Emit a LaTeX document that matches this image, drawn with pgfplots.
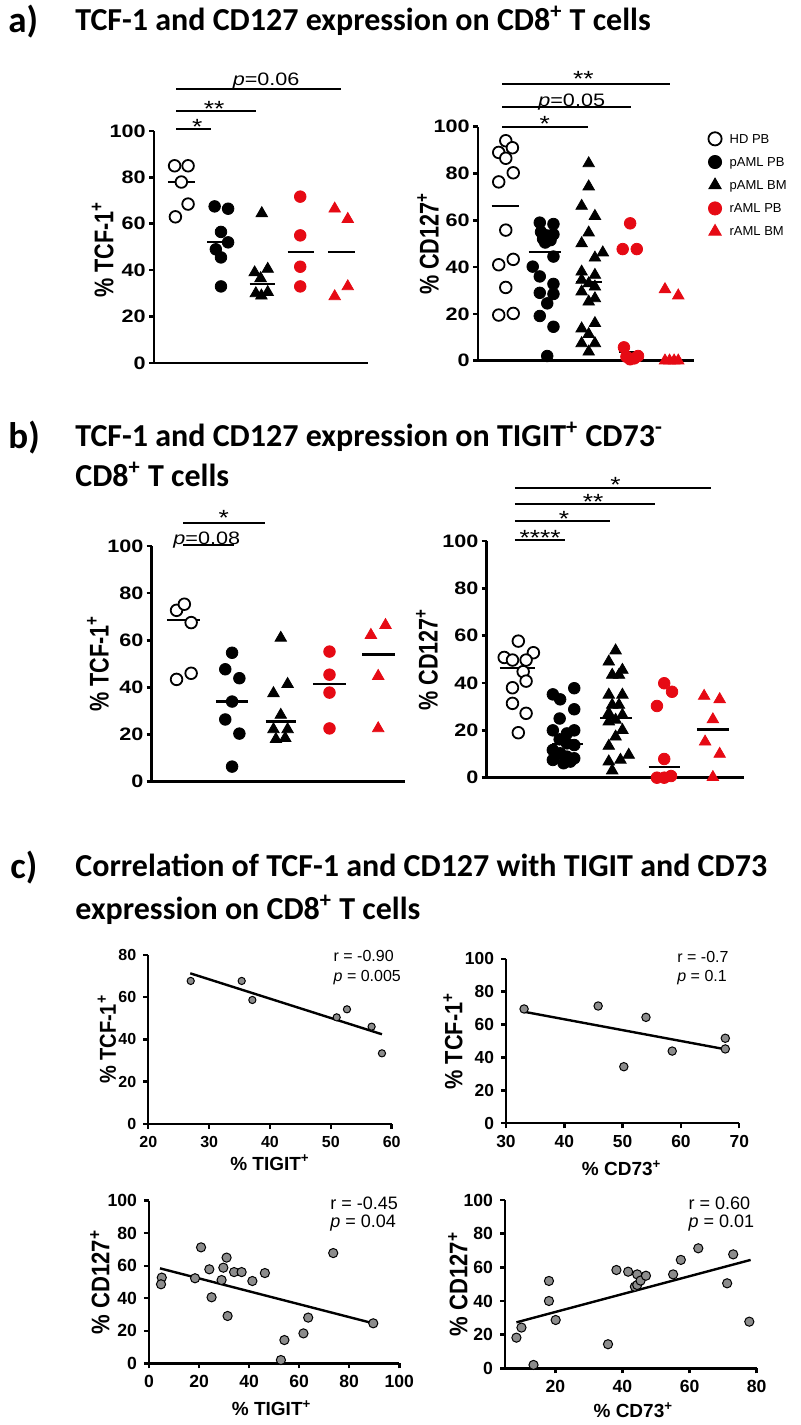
\documentclass[border=0pt]{standalone}
\usepackage{pgfplots}
\pgfplotsset{compat=1.18}
\usepackage{fontspec}
\setmainfont{Liberation Sans}
\newfontfamily\hfont[FakeStretch=1.2]{Liberation Sans}
\newfontfamily\vfont[FakeStretch=0.8]{Liberation Sans}
\newfontfamily\cvfont[FakeStretch=0.87]{Liberation Sans}
\newfontfamily\ttlfont{Carlito}
\definecolor{myred}{RGB}{230,10,20}
\definecolor{dotgray}{RGB}{140,140,140}
\pgfplotsset{
  dotplot/.style={
    scale only axis, axis lines=left, axis line style={-, line width=1.3pt},
    ymin=0, ymax=100, ytick={0,20,40,60,80,100}, xtick=\empty,
    tick align=outside, major tick length=2.5pt,
    tick style={line width=1.3pt, black},
    clip=false,
    /pgf/number format/assume math mode=true,
    yticklabel style={font=\hfont\bfseries\fontsize{9}{10}\selectfont, inner xsep=1.5pt},
    every axis y label/.style={rotate=90, anchor=center, font=\vfont\bfseries\fontsize{13.5}{14}\selectfont},
  },
  scat/.style={
    scale only axis, axis lines=left, axis line style={-, line width=1.2pt},
    tick align=outside, major tick length=2.5pt,
    tick style={line width=1.2pt, black},
    clip=false,
    /pgf/number format/assume math mode=true,
    tick label style={font=\bfseries\fontsize{8.5}{9}\selectfont},
    every axis y label/.style={rotate=90, anchor=center, font=\cvfont\bfseries\fontsize{12}{13}\selectfont},
    every axis x label/.style={anchor=center, font=\bfseries\fontsize{9.5}{11}\selectfont},
  },
  hd/.style={only marks, mark=*, mark size=2.9pt, mark options={fill=white, draw=black, line width=0.9pt}, forget plot},
  pb/.style={only marks, mark=*, mark size=2.9pt, mark options={fill=black, draw=black}, forget plot},
  bm/.style={only marks, mark=triangle*, mark size=3.3pt, mark options={fill=black, draw=black}, forget plot},
  rpb/.style={only marks, mark=*, mark size=2.9pt, mark options={fill=myred, draw=myred}, forget plot},
  rbm/.style={only marks, mark=triangle*, mark size=3.3pt, mark options={fill=myred, draw=myred}, forget plot},
  med/.style={black, line width=1.1pt, no marks, forget plot},
  sig/.style={black, line width=1.1pt, no marks, forget plot},
  pts/.style={only marks, mark=*, mark size=2pt, mark options={fill=dotgray, draw=black, line width=0.5pt}},
  reg/.style={black, line width=1.2pt, no marks},
}
\tikzset{sigtxt/.style={inner sep=0pt, anchor=base}}
\newcommand{\sigfont}{\hfont\fontsize{9}{10}\selectfont}
\newcommand{\starfont}{\hfont\fontsize{11}{12}\selectfont}
\begin{document}
\begin{tikzpicture}
\path[use as bounding box] (0pt,0pt) rectangle (400pt,712.5pt);

% ---------- titles ----------
\node[anchor=base west, inner sep=0pt, font=\ttlfont\bfseries\fontsize{18.5}{20}\selectfont] at (4pt,696pt) {a)};
\node[anchor=base west, inner sep=0pt, font=\ttlfont\bfseries\fontsize{16}{19}\selectfont] at (37.5pt,697pt) {TCF-1 and CD127 expression on CD8\textsuperscript{+} T cells};
\node[anchor=base west, inner sep=0pt, font=\ttlfont\bfseries\fontsize{18.5}{20}\selectfont] at (4pt,488pt) {b)};
\node[anchor=base west, inner sep=0pt, font=\ttlfont\bfseries\fontsize{16}{19}\selectfont] at (37.5pt,489pt) {TCF-1 and CD127 expression on TIGIT\textsuperscript{+} CD73\textsuperscript{-}};
\node[anchor=base west, inner sep=0pt, font=\ttlfont\bfseries\fontsize{16}{19}\selectfont] at (37.5pt,469pt) {CD8\textsuperscript{+} T cells};
\node[anchor=base west, inner sep=0pt, font=\ttlfont\bfseries\fontsize{18.5}{20}\selectfont] at (5pt,273pt) {c)};
\node[anchor=base west, inner sep=0pt, font=\ttlfont\bfseries\fontsize{16}{19}\selectfont] at (37.5pt,274pt) {Correlation of TCF-1 and CD127 with TIGIT and CD73};
\node[anchor=base west, inner sep=0pt, font=\ttlfont\bfseries\fontsize{16}{19}\selectfont] at (37.5pt,252.5pt) {expression on CD8\textsuperscript{+} T cells};

% ---------- a) left ----------
\begin{axis}[dotplot, at={(77pt,531pt)}, anchor=south west, width=107pt, height=116pt,
  xmin=-0.69, xmax=4.71, ylabel={\% TCF-1\textsuperscript{+}},
  ylabel style={at={(axis description cs:-0.24,0.49)}}]
\addplot[med] coordinates {(-0.34,78) (0.34,78)};
\addplot[med] coordinates {(0.66,52) (1.34,52)};
\addplot[med] coordinates {(1.72,34) (2.36,34)};
\addplot[med] coordinates {(2.68,48) (3.36,48)};
\addplot[med] coordinates {(3.7,48) (4.37,48)};
\addplot[hd] coordinates {(-0.17,85) (0.17,85) (0,78) (0.17,68.5) (-0.15,63)};
\addplot[pb] coordinates {(0.84,67.5) (1.18,66.5) (1,56.5) (1.18,52) (0.87,49) (1,45.5) (1,33)};
\addplot[bm] coordinates {(2.03,64.5) (1.85,39) (2.18,40.5) (2,36.5) (1.88,30) (2.02,29) (2.18,30.5)};
\addplot[rpb] coordinates {(3,71.7) (3,55) (3,41.5) (3,33)};
\addplot[rbm] coordinates {(3.87,66.5) (4.2,62) (4.2,33) (3.87,28.7)};
\addplot[sig] coordinates {(-0.13,100.7) (0.75,100.7)};
\addplot[sig] coordinates {(-0.13,108.6) (1.88,108.6)};
\addplot[sig] coordinates {(-0.13,118.1) (4.02,118.1)};
\node[sigtxt, font=\starfont, yshift=-2.6pt] at (axis cs:0.40,100.7) {*};
\node[sigtxt, font=\starfont, yshift=-2.6pt] at (axis cs:0.83,108.6) {**};
\node[sigtxt, font=\sigfont, yshift=1.5pt] at (axis cs:2.14,118.1) {\textit{p}=0.06};
\end{axis}

% ---------- a) right ----------
\begin{axis}[dotplot, at={(239pt,532.15pt)}, anchor=south west, width=108pt, height=117pt,
  xmin=-0.67, xmax=4.54, ylabel={\% CD127\textsuperscript{+}},
  ylabel style={at={(axis description cs:-0.231,0.5)}},
  legend style={at={(1.065,0.99)}, anchor=north west, draw=none, fill=none,
    font=\fontsize{6.5}{8}\selectfont, row sep=2.2pt, inner sep=0pt,
    nodes={inner sep=1pt, text height=5.8pt, text depth=1.6pt},
    /tikz/every odd column/.append style={column sep=3pt}},
  legend cell align=left]
\addplot[med] coordinates {(-0.34,66) (0.31,66)};
\addplot[med] coordinates {(0.55,46.6) (1.33,46.6)};
\addplot[med] coordinates {(1.69,33.5) (2.31,33.5)};
\addplot[med] coordinates {(2.72,3.8) (3.28,3.8)};
\addplot[med] coordinates {(3.76,0) (4.24,0)};
\addplot[hd] coordinates {(0,94) (-0.17,89) (0.16,91) (0,86.5) (0.18,80.3) (-0.17,76.4) (0,55.8) (-0.17,41) (0.18,43.3) (0,31.3) (-0.17,19.5) (0.18,20.2)};
\addplot[pb] coordinates {(0.82,59) (1.15,58.4) (0.85,55) (1.0,53.5) (1.15,54) (0.9,52) (1.08,51.5) (0.95,50.5) (1.15,44.5) (0.65,40.2) (0.82,36) (1.15,32.8) (0.82,29) (1.15,28.5) (1,24.5) (0.82,19.1) (1.15,14.5) (1,2)};
\addplot[bm] coordinates {(2,84.3) (2,74.4) (1.83,66.1) (2.15,61.8) (2,54.7) (1.83,50.1) (2.34,46.2) (2.15,44) (1.83,38) (2.15,36.6) (1.83,34.5) (2,33) (2.15,31.6) (1.83,29.5) (2.15,26.6) (2,25.2) (2.15,16) (1.83,13.7) (2,11.3) (1.83,7.4) (2.15,7.4) (2,3.8)};
\addplot[rpb] coordinates {(3,58.7) (2.82,47.7) (3.16,47.7) (2.85,5.7) (2.91,1.7) (3,0.6) (3.1,1) (3.19,2)};
\addplot[rbm] coordinates {(3.84,30.5) (4.16,27.8) (3.84,0) (3.95,0) (4.06,0) (4.16,0)};
\addplot[sig] coordinates {(-0.08,100) (1.99,100)};
\addplot[sig] coordinates {(-0.08,108.3) (3.02,108.3)};
\addplot[sig] coordinates {(-0.08,118.1) (3.95,118.1)};
\node[sigtxt, font=\starfont, yshift=-2.6pt] at (axis cs:0.94,100) {*};
\node[sigtxt, font=\sigfont, yshift=0.6pt] at (axis cs:1.59,108.3) {\textit{p}=0.05};
\node[sigtxt, font=\starfont, yshift=-1.0pt] at (axis cs:1.87,118.1) {**};
\addlegendimage{hd, mark size=3.3pt}
\addlegendentry{HD PB}
\addlegendimage{pb, mark size=3.3pt}
\addlegendentry{pAML PB}
\addlegendimage{bm, mark size=3.6pt}
\addlegendentry{pAML BM}
\addlegendimage{rpb, mark size=3.3pt}
\addlegendentry{rAML PB}
\addlegendimage{rbm, mark size=3.6pt}
\addlegendentry{rAML BM}
\end{axis}

% ---------- b) left ----------
\begin{axis}[dotplot, at={(75.85pt,321.65pt)}, anchor=south west, width=126.65pt, height=117.85pt,
  xmin=-0.65, xmax=4.55, ylabel={\% TCF-1\textsuperscript{+}},
  ylabel style={at={(axis description cs:-0.212,0.5)}}]
\addplot[med] coordinates {(-0.34,68.6) (0.34,68.6)};
\addplot[med] coordinates {(0.67,34) (1.32,34)};
\addplot[med] coordinates {(1.69,25.5) (2.31,25.5)};
\addplot[med] coordinates {(2.66,41.6) (3.33,41.6)};
\addplot[med] coordinates {(3.67,54) (4.34,54)};
\addplot[hd] coordinates {(-0.14,43.4) (0.16,46) (-0.14,72.7) (0.02,75.3) (0.16,67.5)};
\addplot[pb] coordinates {(1,54.7) (0.86,47.7) (1.15,43.9) (1,34) (0.86,26.4) (1.15,20.4) (1,6.4)};
\addplot[bm] coordinates {(2,61) (2.14,41.4) (1.85,37.5) (2,28.3) (1.85,22.2) (2.14,22.2) (1.9,18) (2.09,18.5)};
\addplot[rpb] coordinates {(3,55.2) (3,45.4) (3,37.8) (3,22.6)};
\addplot[rbm] coordinates {(3.85,62.2) (4.15,66.4) (4,44.8) (4,22.6)};
\addplot[sig] coordinates {(0,100.4) (1.03,100.4)};
\addplot[sig] coordinates {(0,109.6) (1.67,109.6)};
\node[sigtxt, font=\sigfont, yshift=0.4pt] at (axis cs:0.48,100.4) {\textit{p}=0.08};
\node[sigtxt, font=\starfont, yshift=-1.0pt] at (axis cs:0.83,109.6) {*};
\end{axis}

% ---------- b) right ----------
\begin{axis}[dotplot, at={(243.35pt,323.65pt)}, anchor=south west, width=128.65pt, height=118.35pt,
  xmin=-0.65, xmax=4.64, ylabel={\% CD127\textsuperscript{+}},
  ylabel style={at={(axis description cs:-0.232,0.5)}}]
\addplot[med] coordinates {(-0.38,46.3) (0.34,46.3)};
\addplot[med] coordinates {(0.69,14.2) (1.34,14.2)};
\addplot[med] coordinates {(1.68,25.1) (2.34,25.1)};
\addplot[med] coordinates {(2.68,4.4) (3.32,4.4)};
\addplot[med] coordinates {(3.67,20.4) (4.33,20.4)};
\addplot[hd] coordinates {(0,57.7) (-0.29,50.8) (-0.12,49.7) (0.31,52.8) (0.16,49.7) (0.1,44.8) (-0.12,38) (0.16,40.8) (-0.12,31.4) (0.16,27.2) (0,19)};
\addplot[pb] coordinates {(0.71,35.2) (0.86,33.1) (1.15,37.8) (1.15,28.9) (0.85,25) (0.71,20) (1,18.7) (1.15,20) (0.85,16.2) (1,14.5) (1.15,13.8) (0.71,11.7) (0.86,10.3) (1,8.9) (1.15,8.2) (0.71,7.5) (0.93,6.1) (1.07,6.8)};
\addplot[bm] coordinates {(2,53.7) (1.86,49) (2.14,45.5) (1.93,43.4) (2.07,43.4) (1.86,35) (2.14,35) (1.93,30.7) (2.07,30.7) (1.86,27.2) (2.14,26.5) (2,24.4) (1.86,23.7) (2.14,20.1) (2,17.3) (1.86,13.4) (2.27,9.6) (1.86,6.8) (2.1,7.5) (1.93,3)};
\addplot[rpb] coordinates {(3,39.9) (3.16,36.3) (2.85,30.3) (3,7.9) (2.85,0) (3,0) (3.14,0.7)};
\addplot[rbm] coordinates {(3.82,34.5) (4.14,33.1) (4,24.6) (3.84,15.2) (4.14,10) (4,0.2)};
\addplot[sig] coordinates {(-0.07,100.4) (0.96,100.4)};
\addplot[sig] coordinates {(-0.07,108.5) (1.88,108.5)};
\addplot[sig] coordinates {(-0.07,115.6) (2.81,115.6)};
\addplot[sig] coordinates {(-0.07,122.5) (3.97,122.5)};
\node[sigtxt, font=\starfont, yshift=-2.6pt] at (axis cs:0.45,100.4) {****};
\node[sigtxt, font=\starfont, yshift=-2.6pt] at (axis cs:0.94,108.5) {*};
\node[sigtxt, font=\starfont, yshift=-2.6pt] at (axis cs:1.54,115.6) {**};
\node[sigtxt, font=\starfont, yshift=-2.6pt] at (axis cs:2.0,122.5) {*};
\end{axis}

% ---------- c) top left ----------
\begin{axis}[scat, at={(74.15pt,150.5pt)}, anchor=south west, width=121.7pt, height=84.65pt,
  xmin=20, xmax=60, ymin=0, ymax=80, xtick={20,30,40,50,60}, ytick={0,20,40,60,80},
  tick label style={font=\bfseries\fontsize{8}{9}\selectfont},
  xlabel={\% TIGIT\textsuperscript{+}}, ylabel={\% TCF-1\textsuperscript{+}},
  xlabel style={at={(axis description cs:0.5,-0.23)}},
  ylabel style={at={(axis description cs:-0.17,0.5)}, font=\cvfont\bfseries\fontsize{11.5}{13}\selectfont}]
\addplot[reg] coordinates {(26.9,71.2) (58.4,42.4)};
\addplot[pts, mark size=1.8pt] coordinates {(26.97,67.6) (35.35,67.6) (37.1,58.6) (50.96,50.4) (52.65,54.2) (56.7,46.0) (58.4,33.4)};
\node[anchor=west, inner sep=0pt, font=\fontsize{8}{9}\selectfont] at (rel axis cs:0.76,0.99) {r = -0.90};
\node[anchor=west, inner sep=0pt, font=\fontsize{8}{9}\selectfont] at (rel axis cs:0.76,0.864) {\textit{p} = 0.005};
\end{axis}

% ---------- c) top right ----------
\begin{axis}[scat, at={(253pt,150.85pt)}, anchor=south west, width=116.65pt, height=82.25pt,
  xmin=30, xmax=70, ymin=0, ymax=100, xtick={30,40,50,60,70}, ytick={0,20,40,60,80,100},
  tick label style={font=\bfseries\fontsize{8.7}{9}\selectfont},
  xlabel={\% CD73\textsuperscript{+}}, ylabel={\% TCF-1\textsuperscript{+}},
  xlabel style={at={(axis description cs:0.496,-0.274)}},
  ylabel style={at={(axis description cs:-0.227,0.5)}, font=\cvfont\bfseries\fontsize{12.5}{13}\selectfont}]
\addplot[reg] coordinates {(33.1,67.8) (67.6,45.0)};
\addplot[pts, mark size=2.1pt] coordinates {(33.1,69.5) (45.8,71.3) (54.0,64.4) (50.2,34.4) (58.5,43.9) (67.6,51.7) (67.6,45.2)};
\node[anchor=west, inner sep=0pt, font=\fontsize{8}{9}\selectfont] at (rel axis cs:0.733,1.013) {r = -0.7};
\node[anchor=west, inner sep=0pt, font=\fontsize{8}{9}\selectfont] at (rel axis cs:0.733,0.885) {\textit{p} = 0.1};
\end{axis}

% ---------- c) bottom left ----------
\begin{axis}[scat, at={(74.5pt,30.85pt)}, anchor=south west, width=125.15pt, height=81.3pt,
  xmin=0, xmax=100, ymin=0, ymax=100, xtick={0,20,40,60,80,100}, ytick={0,20,40,60,80,100},
  tick label style={font=\bfseries\fontsize{8.8}{9}\selectfont},
  xlabel={\% TIGIT\textsuperscript{+}}, ylabel={\% CD127\textsuperscript{+}},
  xlabel style={at={(axis description cs:0.49,-0.275)}},
  ylabel style={at={(axis description cs:-0.196,0.5)}, font=\cvfont\bfseries\fontsize{12.7}{13}\selectfont}]
\addplot[reg] coordinates {(4.4,58.4) (89.6,24.6)};
\addplot[pts, mark size=2.3pt] coordinates {(5.1,52.7) (4.8,48.6) (18.4,52.3) (20.8,71.3) (24.1,57.8) (25.0,40.6) (29.0,51.2) (29.7,58.8) (31.0,65.0) (31.4,29.1) (34.0,56.1) (37.0,56.1) (41.3,50.6) (46.3,55.5) (52.7,2.0) (54.1,14.3) (61.7,18.4) (63.6,28.1) (73.6,67.8) (89.6,24.6)};
\node[anchor=west, inner sep=0pt, font=\fontsize{9}{10}\selectfont] at (rel axis cs:0.723,0.984) {r = -0.45};
\node[anchor=west, inner sep=0pt, font=\fontsize{9}{10}\selectfont] at (rel axis cs:0.723,0.861) {\textit{p} = 0.04};
\end{axis}

% ---------- c) bottom right ----------
\begin{axis}[scat, at={(252.5pt,28.35pt)}, anchor=south west, width=125.85pt, height=84.15pt,
  xmin=5, xmax=80, ymin=0, ymax=100, xtick={20,40,60,80}, ytick={0,20,40,60,80,100},
  tick label style={font=\bfseries\fontsize{8.8}{9}\selectfont},
  xlabel={\% CD73\textsuperscript{+}}, ylabel={\% CD127\textsuperscript{+}},
  xlabel style={at={(axis description cs:0.51,-0.248)}},
  ylabel style={at={(axis description cs:-0.187,0.5)}, font=\cvfont\bfseries\fontsize{12.7}{13}\selectfont}]
\addplot[reg] coordinates {(8.4,27.3) (78.2,64.4)};
\addplot[pts, mark size=2.3pt] coordinates {(8.4,18.2) (9.9,24.2) (13.5,2.0) (18.1,51.9) (18.1,40.0) (20.1,28.7) (35.7,14.3) (38.2,58.4) (41.7,57.4) (44.4,55.8) (43.7,48.5) (44.4,49.5) (45.4,52.1) (47.0,55.0) (55.1,55.8) (57.4,64.4) (62.6,71.3) (71.2,50.5) (73.0,67.7) (77.8,27.7)};
\node[anchor=west, inner sep=0pt, font=\fontsize{9}{10}\selectfont] at (rel axis cs:0.728,0.98) {r = 0.60};
\node[anchor=west, inner sep=0pt, font=\fontsize{9}{10}\selectfont] at (rel axis cs:0.728,0.862) {\textit{p} = 0.01};
\end{axis}
\end{tikzpicture}
\end{document}
